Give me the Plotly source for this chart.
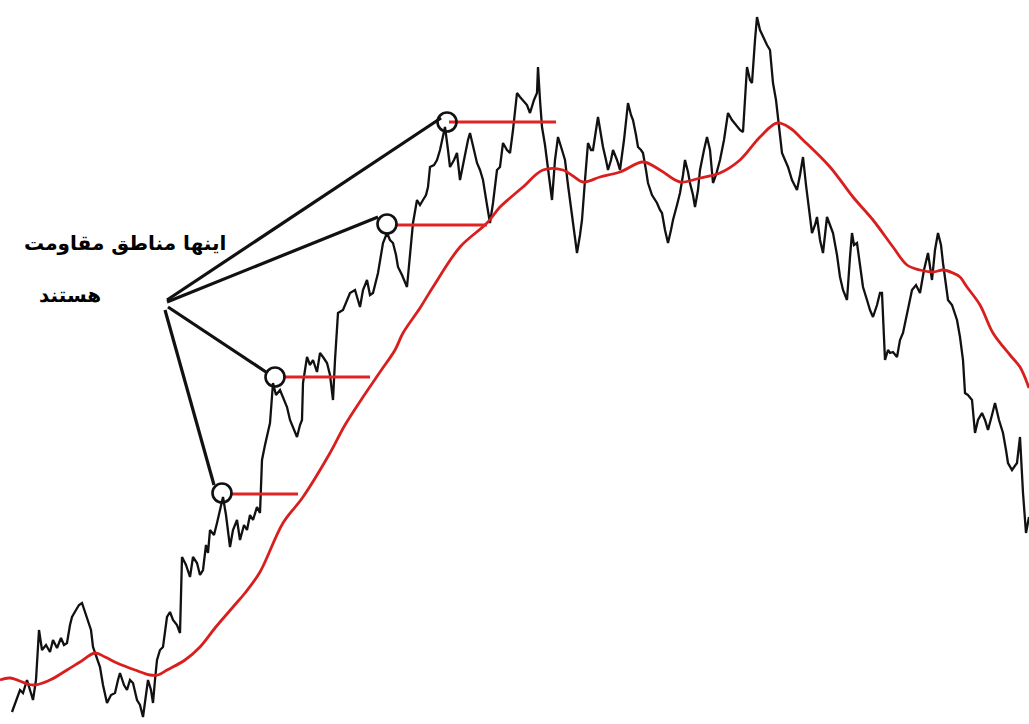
import plotly.graph_objects as go

# ---- price series (time index, price level) ----
price_t = [12,16,20,23,27,30,33,36,39,42,46,50,53,57,61,64,67,70,72,76,79,82,85,88,91,93,96,100,103,107,
           111,115,118,120,124,127,130,133,137,140,143,146,148,151,153,155,157,160,163,167,170,173,177,180,
           182,186,190,193,197,200,203,206,208,210,214,217,220,223,226,230,233,237,240,244,247,250,253,257,
           260,262,265,267,270,273,276,280,284,287,290,293,297,300,302,303,307,310,313,317,320,323,327,330,
           333,335,338,343,347,350,355,360,363,367,370,373,378,381,383,387,390,393,396,398,402,407,410,413,
           417,420,423,426,428,430,434,437,440,442,445,448,450,454,457,460,463,465,468,470,474,477,480,483,
           487,490,493,497,500,503,507,510,513,517,520,523,527,530,534,537,538,540,542,545,547,550,552,555,
           558,562,565,568,570,574,577,580,582,585,588,591,593,596,598,601,603,606,608,611,613,617,620,624,
           628,631,633,636,638,641,643,646,648,652,657,660,662,665,668,671,673,677,680,683,685,688,690,693,
           695,698,700,704,707,710,713,716,720,724,728,732,737,740,743,745,747,750,752,755,757,760,763,767,
           770,773,776,778,782,785,788,792,797,800,803,806,808,812,815,817,820,823,825,827,830,833,837,840,
           843,847,850,852,854,857,860,863,867,870,873,877,880,882,885,888,890,893,897,900,903,907,910,912,
           916,920,924,928,932,935,938,941,943,946,948,952,957,960,963,965,968,972,975,978,982,985,988,992,
           995,999,1003,1006,1008,1012,1017,1020,1023,1026,1029]
price_v = [12,24,34,31,44,34,24,44,94,74,79,72,84,76,86,79,81,99,107,114,119,121,112,104,94,77,69,57,39,21,
           29,31,44,51,39,34,44,41,24,19,7,29,44,34,21,44,64,74,77,107,112,104,99,91,
           167,159,147,167,161,149,154,179,171,194,189,201,214,227,209,177,194,204,184,199,194,209,204,217,
           211,264,279,287,301,341,329,334,324,317,304,297,287,299,304,341,367,359,364,352,371,367,361,349,
           324,364,411,414,424,431,434,417,434,444,429,431,451,469,481,491,484,481,469,457,449,437,467,501,
           524,519,524,529,537,557,559,564,574,584,597,574,557,564,571,544,559,571,584,591,574,561,554,544,
           519,501,521,554,557,581,574,571,594,631,627,624,619,611,624,631,657,624,597,579,564,539,524,564,
           587,574,564,539,524,494,471,489,504,544,581,574,574,594,607,589,577,564,554,564,574,564,554,584,
           621,609,604,589,577,574,571,554,541,529,521,514,511,494,481,494,504,519,531,549,564,552,541,529,
           517,534,554,574,587,574,541,549,564,584,611,604,597,594,592,624,657,644,641,684,707,694,687,679,
           674,641,624,607,571,564,557,544,534,549,567,539,524,491,499,507,484,471,489,507,499,491,469,447,
           434,424,467,491,479,481,459,437,424,414,407,419,431,431,364,374,371,372,367,384,391,409,424,434,
           439,431,454,471,444,474,491,479,461,439,424,419,404,387,364,331,329,324,291,304,311,304,294,309,
           321,304,291,274,261,254,261,287,231,191,207]

# ---- moving average ----
ma_t = [0,10,33,50,67,80,95,105,117,135,150,158,167,185,200,215,233,245,260,283,303,330,345,363,380,395,
        403,420,433,460,487,500,510,523,543,563,573,583,600,620,643,660,680,700,720,740,760,777,790,803,
        830,853,873,893,907,920,933,943,953,960,967,980,993,1010,1020,1029]
ma_v = [44,46,39,44,54,62,71,67,61,54,49,49,54,64,77,96,117,131,152,201,227,271,299,327,352,374,
        391,416,437,477,501,517,526,537,554,554,548,542,547,552,562,554,542,546,551,564,587,601,596,584,
        557,527,504,477,459,454,452,454,451,447,437,419,391,369,357,336]

# ---- resistance levels: (start, end, level) ----
res_start = [230, 283, 395, 449]
res_end = [298, 370, 487, 556]
res_level = [230, 347, 499, 602]

# ---- touch points (circled) ----
touch_t = [222, 275, 387, 447]
touch_v = [231, 347, 500, 602]

# annotation anchor (where the pointer lines start) and tips
anchor_t = [167, 167, 168, 165]
anchor_v = [424, 422, 417, 414]
tip_t = [441, 378, 266, 214]
tip_v = [606, 507, 352, 239]

label_line1 = "اینها مناطق مقاومت"
label_line2 = "هستند"

fig = go.Figure()

fig.add_trace(go.Scatter(x=price_t, y=price_v, mode="lines",
                         line=dict(color="#111111", width=2.3), hoverinfo="skip"))
fig.add_trace(go.Scatter(x=ma_t, y=ma_v, mode="lines",
                         line=dict(color="#d91e1e", width=2.8, shape="spline", smoothing=1.0),
                         hoverinfo="skip"))

for s, e, lv in zip(res_start, res_end, res_level):
    fig.add_trace(go.Scatter(x=[s, e], y=[lv, lv], mode="lines",
                             line=dict(color="#e02424", width=2.8), hoverinfo="skip"))

for a_t, a_v, b_t, b_v in zip(anchor_t, anchor_v, tip_t, tip_v):
    fig.add_trace(go.Scatter(x=[a_t, b_t], y=[a_v, b_v], mode="lines",
                             line=dict(color="#111111", width=3.2), hoverinfo="skip"))

fig.add_trace(go.Scatter(x=touch_t, y=touch_v, mode="markers",
                         marker=dict(symbol="circle-open", size=19, color="#111111",
                                     line=dict(width=2.6, color="#111111")),
                         hoverinfo="skip"))

fig.add_annotation(x=125, y=481, text="<b>" + label_line1 + "</b>", showarrow=False,
                   font=dict(family="DejaVu Sans", size=20, color="#000000"))
fig.add_annotation(x=70, y=429, text="<b>" + label_line2 + "</b>", showarrow=False,
                   font=dict(family="DejaVu Sans", size=20, color="#000000"))

fig.update_layout(
    width=1029, height=724,
    margin=dict(l=0, r=0, t=0, b=0),
    paper_bgcolor="white", plot_bgcolor="white",
    showlegend=False,
    xaxis=dict(range=[0, 1029], visible=False, fixedrange=True),
    yaxis=dict(range=[0, 724], visible=False, fixedrange=True),
)

fig.write_html("out.html", config={"displayModeBar": False},
               post_script="document.body.style.margin='0';document.body.style.overflow='hidden';")
